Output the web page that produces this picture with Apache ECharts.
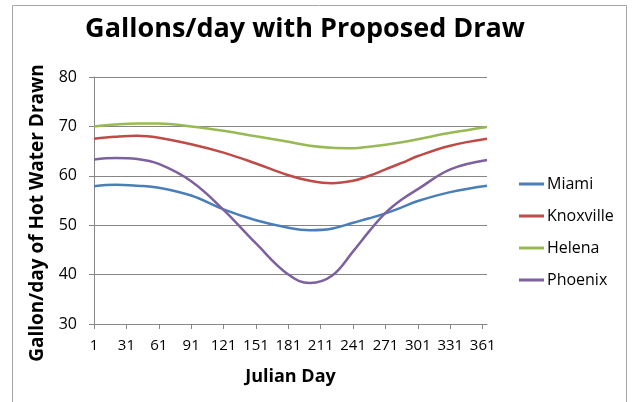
<!DOCTYPE html>
<html>
<head>
<meta charset="utf-8">
<script src="https://cdn.jsdelivr.net/npm/echarts@6/dist/echarts.min.js"></script>
<style>
html, body { margin: 0; padding: 0; background: #fff; }
#chart { width: 634px; height: 402px; }
</style>
</head>
<body>
<div id="chart"></div>
<script>
var sampleDays = [1, 21, 41, 61, 91, 121, 151, 181, 201, 221, 241, 256, 271, 286, 301, 331, 365]
var miami = [57.9, 58.2, 58.0, 57.6, 56.0, 53.2, 51.0, 49.5, 49.0, 49.3, 50.5, 51.4, 52.4, 53.6, 54.9, 56.7, 58.0]
var knoxville = [67.5, 67.9, 68.1, 67.7, 66.4, 64.7, 62.5, 60.1, 59.0, 58.5, 59.0, 60.0, 61.3, 62.6, 64.0, 66.1, 67.5]
var helena = [70.0, 70.4, 70.6, 70.6, 70.0, 69.1, 68.0, 66.9, 66.1, 65.7, 65.6, 65.9, 66.3, 66.8, 67.4, 68.7, 69.9]
var phoenix = [63.3, 63.6, 63.4, 62.4, 58.9, 53.1, 46.3, 40.0, 38.3, 39.7, 44.7, 48.8, 52.5, 55.2, 57.3, 61.3, 63.2]

var days = []
for (var d = 1; d <= 365; d++) days.push(String(d))

function pairs(vals) {
    return sampleDays.map(function(day, i) { return [String(day), vals[i]] })
}

var font = 'Open Sans'
var chart = echarts.init(document.getElementById('chart'))

function line(name, color, vals) {
    return {
        name: name,
        type: 'line',
        smooth: 0.4,
        showSymbol: false,
        lineStyle: { color: color, width: 2.5 },
        itemStyle: { color: color },
        data: pairs(vals)
    }
}

chart.setOption({
    animation: false,
    title: {
        text: 'Gallons/day with Proposed Draw',
        left: 300,
        textAlign: 'center',
        top: 11,
        textStyle: { fontFamily: font, fontWeight: 'bold', fontSize: 27, color: '#000' }
    },
    graphic: [{
        type: 'rect',
        shape: { x: 12.5, y: 5.5, width: 614, height: 420 },
        style: { fill: null, stroke: '#a6a6a6', lineWidth: 1 },
        silent: true
    }],
    legend: {
        orient: 'vertical',
        left: 519,
        top: 174,
        padding: 0,
        itemGap: 12,
        itemWidth: 25,
        itemHeight: 3,
        icon: 'rect',
        textStyle: { fontFamily: font, fontSize: 16, lineHeight: 20, color: '#000', padding: [0, 0, 0, -2] },
        data: ['Miami', 'Knoxville', 'Helena', 'Phoenix']
    },
    grid: { left: 94, right: 147, top: 77, bottom: 78 },
    xAxis: {
        type: 'category',
        data: days,
        boundaryGap: false,
        name: 'Julian Day',
        nameLocation: 'middle',
        nameGap: 44,
        nameTextStyle: { fontFamily: font, fontWeight: 'bold', fontSize: 18, color: '#000' },
        axisLine: { lineStyle: { color: '#868686' } },
        axisTick: { interval: 29, length: 5, lineStyle: { color: '#868686' } },
        axisLabel: { interval: 29, fontFamily: font, fontSize: 15, color: '#000', margin: 14 },
        splitLine: { show: false }
    },
    yAxis: {
        type: 'value',
        min: 30,
        max: 80,
        interval: 10,
        name: 'Gallon/day of Hot Water Drawn',
        nameLocation: 'middle',
        nameGap: 47,
        nameTextStyle: { fontFamily: font, fontWeight: 'bold', fontSize: 19, color: '#000', padding: [0, 25, 0, 0] },
        axisLine: { show: true, lineStyle: { color: '#868686' } },
        axisTick: { show: true, length: 5, lineStyle: { color: '#868686' } },
        axisLabel: { fontFamily: font, fontSize: 16, color: '#000', margin: 17 },
        splitLine: { lineStyle: { color: '#868686' } }
    },
    series: [
        line('Miami', '#4a7ebb', miami),
        line('Knoxville', '#be4b48', knoxville),
        line('Helena', '#98b954', helena),
        line('Phoenix', '#7d60a0', phoenix)
    ]
})
</script>
</body>
</html>
